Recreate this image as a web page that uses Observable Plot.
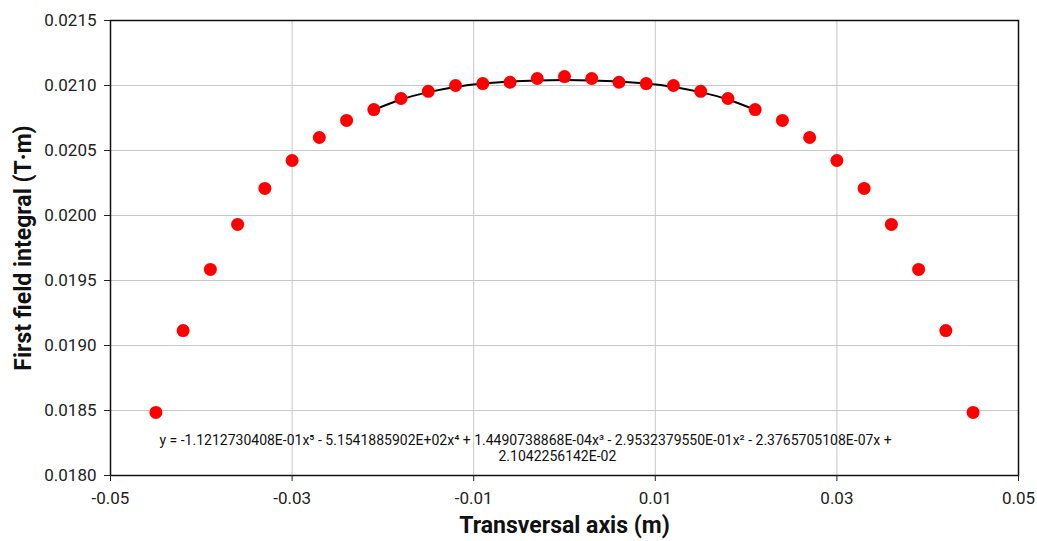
<!DOCTYPE html>
<html><head><meta charset="utf-8">
<script src="https://cdn.jsdelivr.net/npm/d3@7"></script>
<script src="https://cdn.jsdelivr.net/npm/@observablehq/plot@0.6"></script>
<style>body{margin:0;background:#fff;font-family:Roboto,"DejaVu Sans",sans-serif}</style>
</head><body><div id="chart"></div>
<script>
const xPos = [-0.045,-0.042,-0.039,-0.036,-0.033,-0.030,-0.027,-0.024,-0.021,-0.018,-0.015,-0.012,-0.009,-0.006,-0.003,0,0.003,0.006,0.009,0.012,0.015,0.018,0.021,0.024,0.027,0.030,0.033,0.036,0.039,0.042,0.045];
const fieldIntegral = [0.018485,0.019115,0.019585,0.019931,0.020208,0.020423,0.020600,0.020731,0.020815,0.020900,0.020955,0.021000,0.021015,0.021025,0.021054,0.021069,0.021054,0.021025,0.021015,0.021000,0.020955,0.020900,0.020815,0.020731,0.020600,0.020423,0.020208,0.019931,0.019585,0.019115,0.018485];
const fitX = [-0.021,-0.018,-0.015,-0.012,-0.009,-0.006,-0.003,0,0.003,0.006,0.009,0.012,0.015,0.018,0.021];
const fitY = [0.020812,0.020892,0.020949,0.020989,0.021015,0.021031,0.021039,0.021042,0.021039,0.021031,0.021015,0.020989,0.020949,0.020892,0.020812];
const xTicks = [-0.05,-0.03,-0.01,0.01,0.03,0.05];
const yTicks = [0.0180,0.0185,0.0190,0.0195,0.0200,0.0205,0.0210,0.0215];
const eqLine1 = "y = -1.1212730408E-01x\u2075 - 5.1541885902E+02x\u2074 + 1.4490738868E-04x\u00B3 - 2.9532379550E-01x\u00B2 - 2.3765705108E-07x +";
const eqLine2 = "2.1042256142E-02";
const xTitle = "Transversal axis (m)";
const yTitle = "First field integral (T\u00B7m)";

const pts = xPos.map((x,i)=>({x, y: fieldIntegral[i]}));
const fit = fitX.map((x,i)=>({x, y: fitY[i]}));

const chart = Plot.plot({
  width: 1037, height: 541,
  marginLeft: 110, marginTop: 20, marginRight: 19, marginBottom: 66,
  style: {fontFamily: "Roboto, 'DejaVu Sans', sans-serif", fontSize: "16px", color: "#222"},
  x: {domain: [-0.05, 0.05], ticks: xTicks, tickFormat: d => d.toFixed(2), label: null, tickSize: 6},
  y: {domain: [0.0180, 0.0215], ticks: yTicks, tickFormat: d => d.toFixed(4), label: null, tickSize: 6},
  marks: [
    Plot.gridY(yTicks.slice(1), {stroke: "#c8c8c8", strokeOpacity: 1, strokeWidth: 1}),
    Plot.gridX(xTicks.slice(1,-1), {stroke: "#c8c8c8", strokeOpacity: 1, strokeWidth: 1}),
    Plot.frame({stroke: "#111", strokeWidth: 1.5}),
    Plot.axisX({ticks: xTicks, tickFormat: d => d.toFixed(2), tickSize: 6, tickPadding: 10, fontSize: 17, label: null}),
    Plot.axisY({ticks: yTicks, tickFormat: d => d.toFixed(4), tickSize: 6, tickPadding: 8, fontSize: 17, label: null}),
    Plot.line(fit, {x: "x", y: "y", curve: "natural", stroke: "#000", strokeWidth: 2}),
    Plot.dot(pts, {x: "x", y: "y", r: 6.5, fill: "#ff0000", stroke: "none"}),
    Plot.text([eqLine1], {frameAnchor: "bottom-left", textAnchor: "start", dx: 49, dy: -31, text: d => d, fontSize: 14, fill: "#111"}),
    Plot.text([eqLine2], {frameAnchor: "bottom-left", textAnchor: "start", dx: 388, dy: -15, text: d => d, fontSize: 14, fill: "#111"}),
    Plot.text([xTitle], {frameAnchor: "bottom", dy: 57, text: d => d, fontSize: 23, fontWeight: "bold", fill: "#111"}),
    Plot.text([yTitle], {frameAnchor: "left", textAnchor: "middle", dx: -87, rotate: -90, text: d => d, fontSize: 23, fontWeight: "bold", fill: "#111"})
  ]
});
document.getElementById("chart").appendChild(chart);
</script></body></html>
